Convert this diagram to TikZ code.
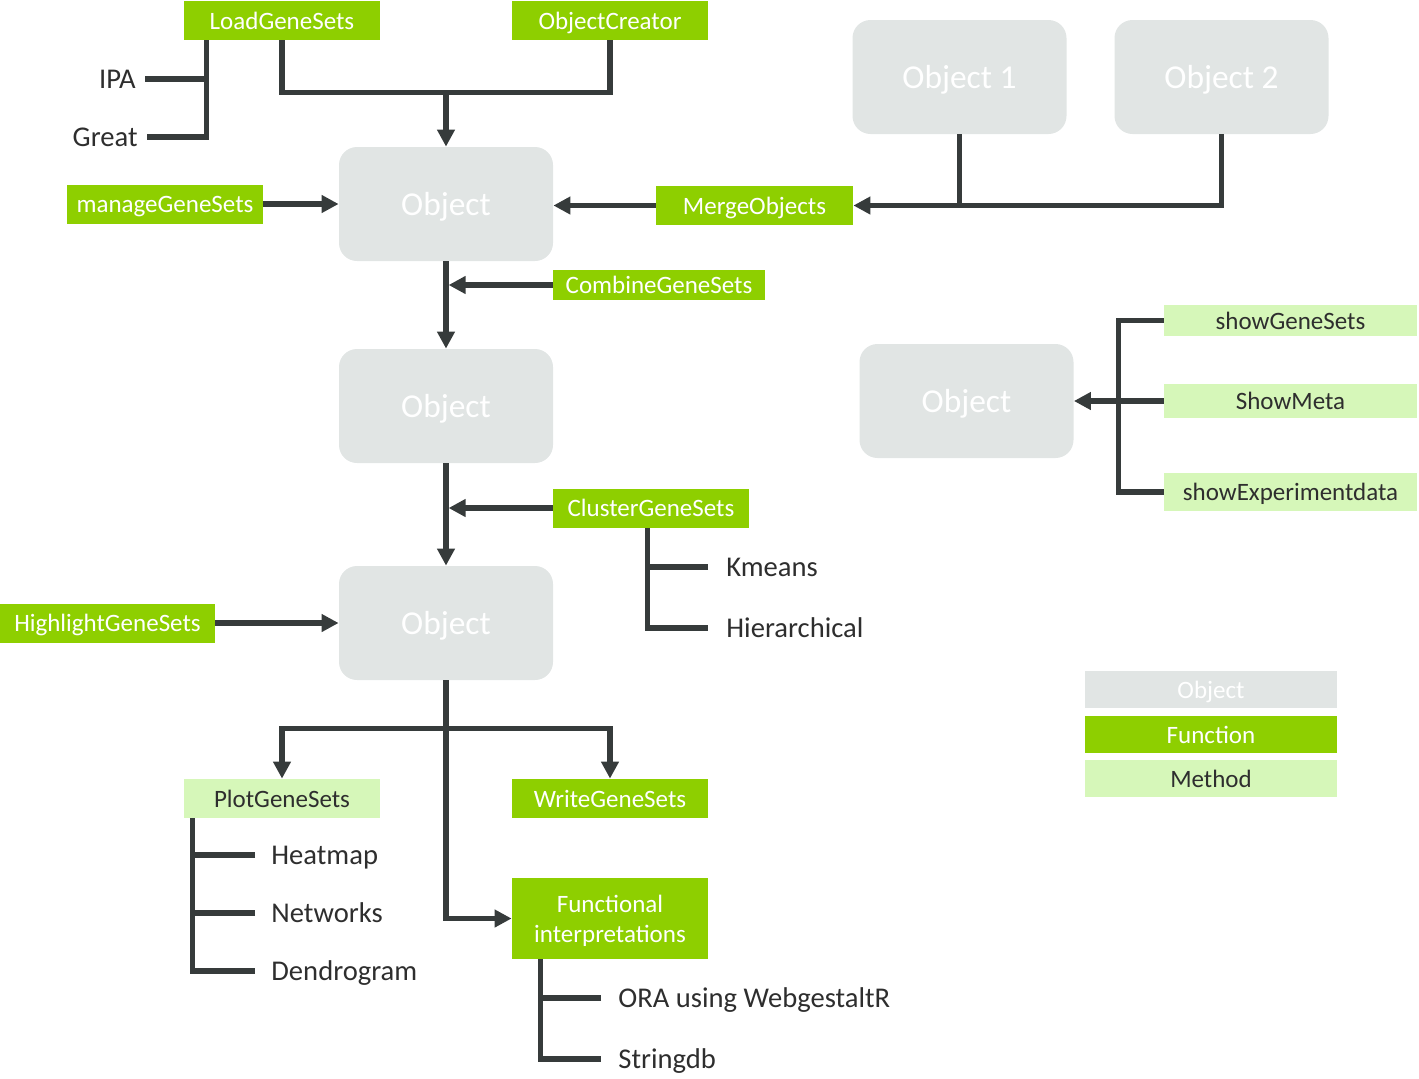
\documentclass[tikz,border=0pt]{standalone}
\usepackage{fontspec}
\setmainfont{Carlito}
\usetikzlibrary{arrows.meta,calc}
\definecolor{fgreen}{HTML}{8ECF00}
\definecolor{mgreen}{HTML}{D6F7B9}
\definecolor{objgray}{HTML}{E1E5E4}
\definecolor{dline}{HTML}{363B3B}
\definecolor{dtext}{HTML}{2E2E2E}
\begin{document}
\begin{tikzpicture}[x=0.5pt,y=-0.5pt,
  boxfont/.style={font=\fontsize{12.5}{15}\selectfont},
  func/.style={fill=fgreen, text=white, minimum width=98pt, minimum height=19.5pt, inner sep=0pt, text depth=0pt, boxfont},
  meth/.style={fill=mgreen, text=dtext, minimum width=98pt, minimum height=19.5pt, inner sep=0pt, text depth=0pt, boxfont},
  obj/.style={fill=objgray, rounded corners=9pt, minimum width=107pt, minimum height=57pt, inner sep=0pt, text depth=0pt, text=white, font=\fontsize{16.7}{20}\selectfont},
  legobj/.style={fill=objgray, text=white, minimum width=126pt, minimum height=18.5pt, inner sep=0pt, text depth=0pt, boxfont},
  lbl/.style={text=dtext, font=\fontsize{14.3}{17}\selectfont, inner sep=0pt, text height=9.4pt, text depth=0pt},
  conn/.style={draw=dline, line width=2.6pt},
  arr/.style={conn, -{Triangle[length=8.5pt,width=8.5pt]}},
]
\useasboundingbox (0,0) rectangle (1419,1078);

% top functions
\node[func] (load) at (282,20.5) {LoadGeneSets};
\node[func] (creator) at (610,20.5) {ObjectCreator};
\node[lbl, anchor=east] (ipa) at (136,79) {IPA};
\node[lbl, anchor=east] (great) at (138,137) {Great};

% objects column
\node[obj] (o1) at (446,204) {Object};
\node[obj] (o2) at (446,406) {Object};
\node[obj] (o3) at (446,623) {Object};
\node[func] (manage) at (165,204) {manageGeneSets};
\node[func, minimum width=98.5pt] (merge) at (754.5,205.5) {MergeObjects};
\node[obj] (oa) at (959.5,77) {Object 1};
\node[obj] (ob) at (1221.5,77) {Object 2};
\node[func, minimum width=106pt, minimum height=15pt] (combine) at (659,285) {CombineGeneSets};
\node[func] (cluster) at (651,508) {ClusterGeneSets};
\node[lbl, anchor=west] (km) at (726,567) {Kmeans};
\node[lbl, anchor=west] (hier) at (726,628) {Hierarchical};
\node[func, minimum width=107.5pt] (highlight) at (107.5,623) {HighlightGeneSets};

% bottom
\node[meth] (plot) at (282,798.5) {PlotGeneSets};
\node[func] (write) at (610,798.5) {WriteGeneSets};
\node[func, minimum height=40.5pt, align=center] (funct) at (610,918.5) {Functional\\interpretations};
\node[lbl, anchor=west] (heat) at (271,855) {Heatmap};
\node[lbl, anchor=west] (net) at (271,913) {Networks};
\node[lbl, anchor=west] (dendro) at (271,971) {Dendrogram};
\node[lbl, anchor=west] (ora) at (618,998) {ORA using WebgestaltR};
\node[lbl, anchor=west] (sdb) at (618,1059) {Stringdb};

% right: methods
\node[obj] (o4) at (966.5,401) {Object};
\node[meth, minimum width=126.5pt, minimum height=15.5pt] (sgs) at (1290.5,320.5) {showGeneSets};
\node[meth, minimum width=126.5pt, minimum height=17pt] (smeta) at (1290.5,401) {ShowMeta};
\node[meth, minimum width=126.5pt, minimum height=19pt] (sexp) at (1290.5,492) {showExperimentdata};

% legend
\node[legobj] (lo) at (1211,689.5) {Object};
\node[func, minimum width=126pt, minimum height=18.5pt] (lf) at (1211,734.5) {Function};
\node[meth, minimum width=126pt, minimum height=18.5pt] (lm) at (1211,778.5) {Method};

% connectors: top
\coordinate (lbr) at ($(load.south west)+(23,0)$);
\draw[conn] (lbr) |- ([xshift=4.5pt]great.east);
\draw[conn] ([xshift=4.5pt]ipa.east) -- (ipa.east -| lbr);
\path (o1.north) ++(0,-54) coordinate (j1);
\draw[conn] (load.south) |- (j1) -| (creator.south);
\draw[arr] (j1) -- (o1.north);
\draw[arr] (manage.east) -- (o1.west |- manage.east);
\draw[arr] (merge.west) -- (o1.east |- merge.west);
\draw[conn] (oa.south) -- (oa.south |- merge.east);
\draw[arr] (ob.south) |- (merge.east);

% column
\draw[arr] (o1.south) -- (o2.north);
\draw[arr] (combine.west) -- ([xshift=1.3pt]o1.south |- combine.west);
\draw[arr] (o2.south) -- (o3.north);
\draw[arr] (cluster.west) -- ([xshift=1.3pt]o2.south |- cluster.west);
\coordinate (cb) at ($(cluster.south west)+(95,0)$);
\draw[conn] (cb) |- ([xshift=-9pt]hier.west);
\draw[conn] ([xshift=-9pt]km.west) -- (km.west -| cb);
\draw[arr] (highlight.east) -- (o3.west |- highlight.east);

% bottom
\path (o3.south) ++(0,48) coordinate (j2);
\draw[arr] (j2) -| (plot.north);
\draw[arr] (j2) -| (write.north);
\draw[arr] (o3.south) |- (funct.west);
\coordinate (pb) at ($(plot.south west)+(9,0)$);
\draw[conn] (pb) |- ([xshift=-8pt]dendro.west);
\draw[conn] ([xshift=-8pt]heat.west) -- (heat.west -| pb);
\draw[conn] ([xshift=-8pt]net.west) -- (net.west -| pb);
\coordinate (fb) at ($(funct.south west)+(29,0)$);
\draw[conn] (fb) |- ([xshift=-8.5pt]sdb.west);
\draw[conn] ([xshift=-8.5pt]ora.west) -- (ora.west -| fb);

% methods
\draw[conn] (sgs.west) -- ++(-45,0) |- (sexp.west);
\draw[arr] (smeta.west) -- (o4.east |- smeta.west);
\end{tikzpicture}
\end{document}
